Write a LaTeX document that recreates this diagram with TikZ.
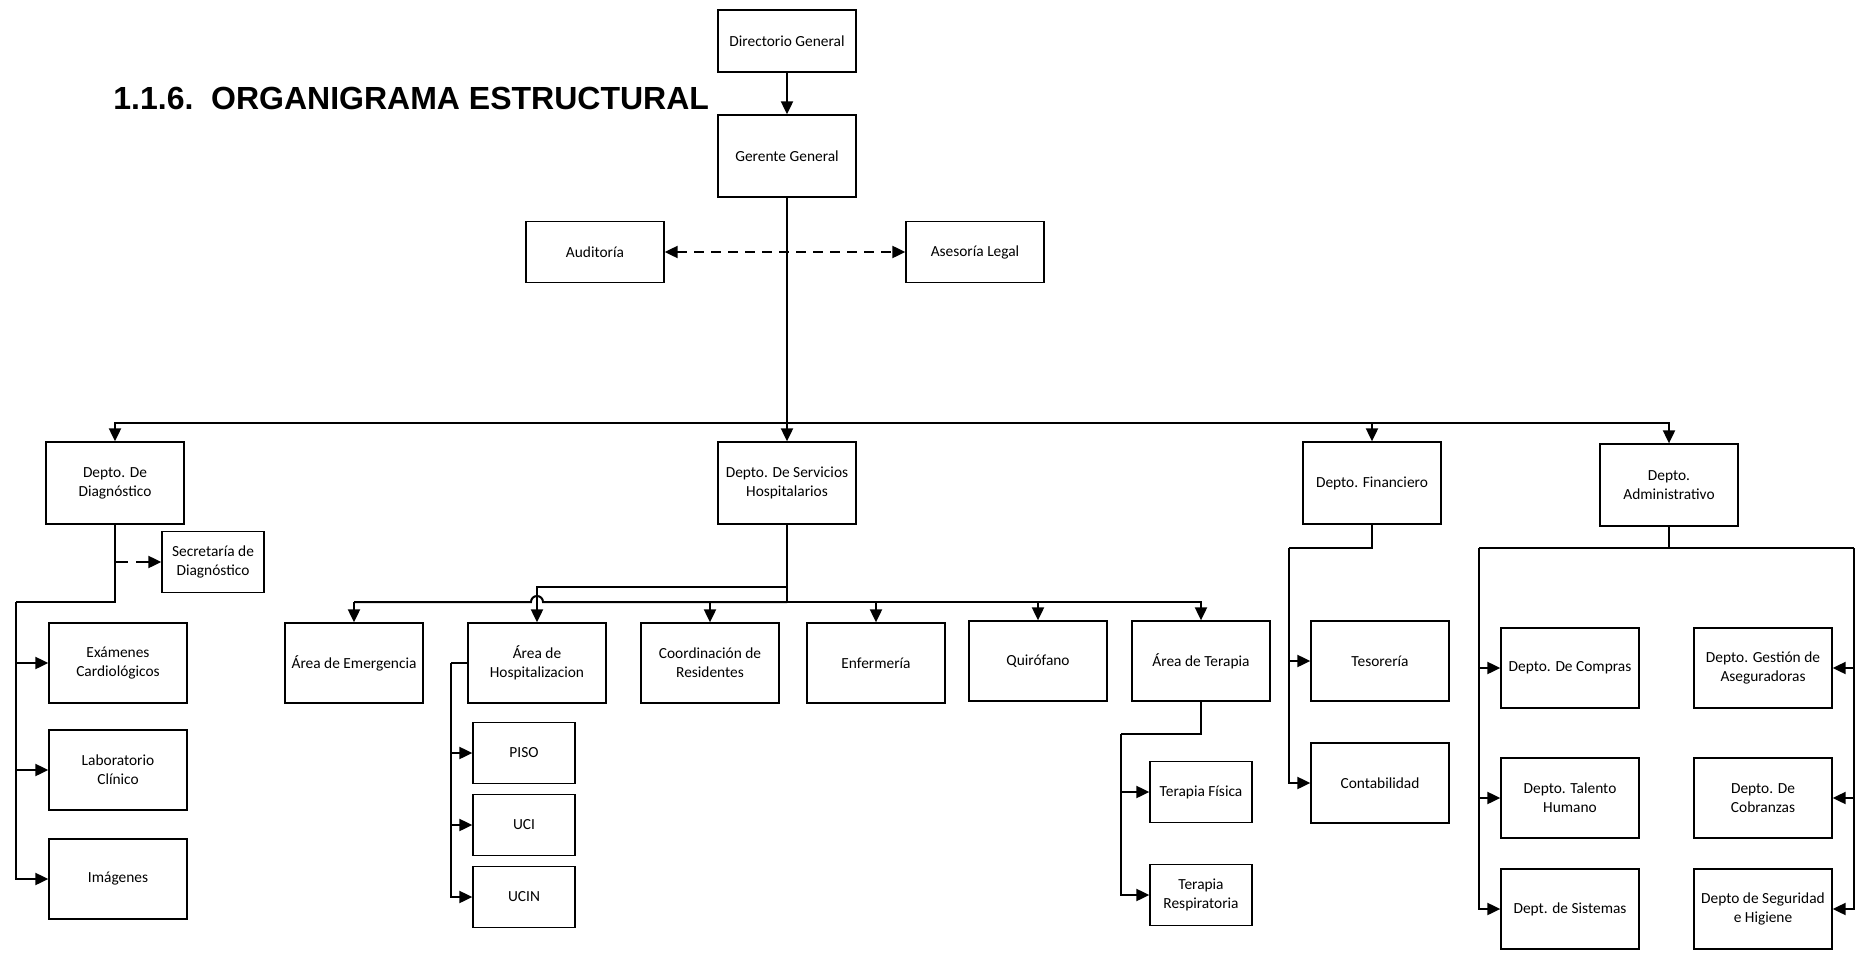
\documentclass[tikz,border=0pt]{standalone}
\usepackage{fontspec}
\setmainfont{Carlito}
\newfontfamily\titlefont{Liberation Sans}
\usetikzlibrary{arrows.meta}
\tikzset{
        box/.style={rectangle, draw=black, line width=0.65pt, align=center, inner sep=1pt, minimum width=69pt, minimum height=41pt, font=\fontsize{7.7}{9.5}\selectfont},
        lowbox/.style={box, minimum height=30.5pt},
        areabox/.style={box, minimum height=40pt},
        smallbox/.style={box, minimum width=51pt, minimum height=30.5pt},
        conn/.style={line width=1pt},
        arr/.style={conn, -{Triangle[length=6.5pt, width=6pt]}},
        dashline/.style={line width=1pt, dash pattern=on 5pt off 3.5pt},
        titletext/.style={anchor=base west, inner sep=0pt, font=\titlefont\fontsize{16}{19}\selectfont\bfseries}
          }
\begin{document}
\begin{tikzpicture}[x=0.5pt, y=-0.5pt]
        \useasboundingbox (0,0) rectangle (1865,953);
        \node[titletext] (titulo) at (113,109) {1.1.6.\ \ ORGANIGRAMA ESTRUCTURAL};

        \node[box, minimum height=31pt] (dirgen) at (787,41) {Directorio General};
        \node[box] (gergen) at (787,156) {Gerente General};
        \node[lowbox] (audit) at (595,252) {Auditoría};
        \node[lowbox] (legal) at (975,252) {Asesoría Legal};

        \node[box] (diag) at (115,483) {Depto. De\\Diagnóstico};
        \node[box] (servhosp) at (787,483) {Depto. De Servicios\\Hospitalarios};
        \node[box] (finan) at (1372,483) {Depto. Financiero};
        \node[box] (admin) at (1669,485) {Depto.\\Administrativo};

        \node[smallbox] (secdiag) at (213,562) {Secretaría de\\Diagnóstico};
        \node[areabox] (cardio) at (118,663) {Exámenes\\Cardiológicos};
        \node[areabox] (labclin) at (118,770) {Laboratorio\\Clínico};
        \node[areabox] (imagen) at (118,879) {Imágenes};

        \node[areabox] (emerg) at (354,663) {Área de Emergencia};
        \node[areabox] (hospit) at (537,663) {Área de\\Hospitalizacion};
        \node[areabox] (coord) at (710,663) {Coordinación de\\Residentes};
        \node[areabox] (enferm) at (876,663) {Enfermería};
        \node[areabox] (quirof) at (1038,661) {Quirófano};
        \node[areabox] (terapia) at (1201,661) {Área de Terapia};
        \node[smallbox] (piso) at (524,753) {PISO};
        \node[smallbox] (uci) at (524,825) {UCI};
        \node[smallbox] (ucin) at (524,897) {UCIN};
        \node[smallbox] (tfisica) at (1201,792) {Terapia Física};
        \node[smallbox] (tresp) at (1201,895) {Terapia\\Respiratoria};

        \node[areabox] (tesor) at (1380,661) {Tesorería};
        \node[areabox] (contab) at (1380,783) {Contabilidad};

        \node[areabox] (compras) at (1570,668) {Depto. De Compras};
        \node[areabox] (talento) at (1570,798) {Depto. Talento\\Humano};
        \node[areabox] (sistemas) at (1570,909) {Dept. de Sistemas};
        \node[areabox] (asegur) at (1763,668) {Depto. Gestión de\\Aseguradoras};
        \node[areabox] (cobranz) at (1763,798) {Depto. De\\Cobranzas};
        \node[areabox] (segur) at (1763,909) {Depto de Seguridad\\e Higiene};

        \coordinate (bus) at (787,423);
        \coordinate (diagbus) at (115,602);
        \coordinate (diagleft) at (16,602);
        \coordinate (servbus) at (787,602);
        \coordinate (servup) at (787,587);
        \coordinate (hop) at (537,602);
        \coordinate (hospleft) at (451,663);
        \coordinate (terbus) at (1121,734);
        \coordinate (finbus) at (1289,548);
        \coordinate (admleft) at (1479,548);
        \coordinate (admright) at (1854,548);

        \draw[arr] (dirgen.south) -- (gergen.north);
        \draw[arr] (gergen.south) -- (servhosp.north);
        \draw[arr] (bus) -| (diag.north);
        \draw[arr] (bus) -| (finan.north);
        \draw[arr] (bus) -| (admin.north);
        \draw[dashline, {Triangle[length=6.5pt, width=6pt]}-{Triangle[length=6.5pt, width=6pt]}] (audit.east) -- (legal.west);

        \draw[conn] (diag.south) -- (diagbus) -- (diagleft);
        \draw[arr] (diagleft) |- (cardio.west);
        \draw[arr] (diagleft) |- (labclin.west);
        \draw[arr] (diagleft) |- (imagen.west);
        \draw[dashline, dash pattern=on 6.5pt off 4pt, -{Triangle[length=6.5pt, width=6pt]}] (diag.south |- secdiag.west) -- (secdiag.west);

        \draw[conn] (servhosp.south) -- (servbus);
        \draw[conn] (servbus) -- ([xshift=3pt]hop) arc[start angle=0, end angle=180, radius=3pt] -- (emerg.north |- servbus);
        \draw[arr] (emerg.north |- servbus) -- (emerg.north);
        \draw[arr] (servup) -| (hospit.north);
        \draw[arr] (servbus) -| (coord.north);
        \draw[arr] (servbus) -| (enferm.north);
        \draw[arr] (servbus) -| (quirof.north);
        \draw[arr] (servbus) -| (terapia.north);

        \draw[conn] (hospit.west) -- (hospleft);
        \draw[arr] (hospleft) |- (piso.west);
        \draw[arr] (hospleft) |- (uci.west);
        \draw[arr] (hospleft) |- (ucin.west);

        \draw[conn] (terapia.south) |- (terbus);
        \draw[arr] (terbus) |- (tfisica.west);
        \draw[arr] (terbus) |- (tresp.west);

        \draw[conn] (finan.south) |- (finbus);
        \draw[arr] (finbus) |- (tesor.west);
        \draw[arr] (finbus) |- (contab.west);

        \draw[conn] (admin.south) -- (admin.south |- admleft);
        \draw[conn] (admleft) -- (admright);
        \draw[arr] (admleft) |- (compras.west);
        \draw[arr] (admleft) |- (talento.west);
        \draw[arr] (admleft) |- (sistemas.west);
        \draw[arr] (admright) |- (asegur.east);
        \draw[arr] (admright) |- (cobranz.east);
        \draw[arr] (admright) |- (segur.east);
\end{tikzpicture}
\end{document}
